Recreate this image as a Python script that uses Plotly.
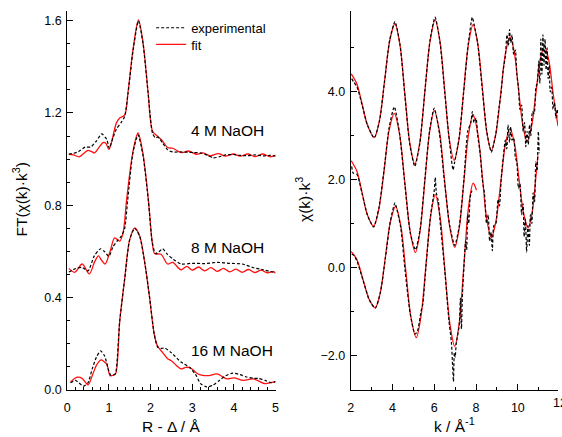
import plotly.graph_objects as go

# ---------------- Fourier transforms, |FT(chi(k) k^3)| vs R - Delta ----------------
r_4m_fit = [0.04, 0.15, 0.29, 0.40, 0.50, 0.58, 0.66, 0.76, 0.87, 0.93, 1.00, 1.07, 1.18, 1.26, 1.38, 1.46,
            1.58, 1.71, 1.82, 1.94, 2.05, 2.17, 2.29, 2.41, 2.53, 2.65, 2.76, 2.91, 3.10, 3.26, 3.43, 3.63,
            3.79, 3.99, 4.15, 4.34, 4.50, 4.70, 4.87, 5.00]
ft_4m_fit = [1.021, 1.018, 1.010, 1.025, 1.038, 1.033, 1.027, 1.050, 1.072, 1.068, 1.042, 1.078, 1.156, 1.178,
             1.192, 1.291, 1.476, 1.604, 1.505, 1.291, 1.121, 1.099, 1.078, 1.050, 1.047, 1.035, 1.028, 1.035,
             1.021, 1.027, 1.014, 1.024, 1.013, 1.022, 1.013, 1.022, 1.011, 1.022, 1.010, 1.017]
r_4m_exp = [0.04, 0.15, 0.27, 0.43, 0.56, 0.70, 0.83, 0.95, 1.01, 1.10, 1.18, 1.30, 1.38, 1.46, 1.58, 1.71,
            1.82, 1.94, 2.05, 2.12, 2.18, 2.29, 2.41, 2.53, 2.70, 2.90, 3.05, 3.19, 3.35, 3.51, 3.65, 3.80,
            3.99, 4.15, 4.34, 4.50, 4.70, 4.87, 5.00]
ft_4m_exp = [1.021, 1.025, 1.032, 1.052, 1.052, 1.078, 1.109, 1.085, 1.047, 1.093, 1.130, 1.160, 1.185, 1.285,
             1.470, 1.600, 1.500, 1.290, 1.110, 1.092, 1.095, 1.070, 1.040, 1.031, 1.031, 1.030, 1.028, 1.027,
             1.018, 1.005, 1.010, 1.018, 1.020, 1.016, 1.015, 1.018, 1.014, 1.016, 1.013]

r_8m_fit = [0.04, 0.18, 0.36, 0.53, 0.66, 0.75, 0.83, 0.91, 1.03, 1.14, 1.26, 1.34, 1.43, 1.58, 1.70, 1.82,
            1.95, 2.04, 2.10, 2.25, 2.41, 2.53, 2.73, 2.87, 3.00, 3.15, 3.30, 3.45, 3.60, 3.75, 3.90, 4.05,
            4.20, 4.35, 4.50, 4.65, 4.80, 4.95, 5.00]
ft_8m_fit = [0.526, 0.509, 0.545, 0.502, 0.555, 0.580, 0.560, 0.545, 0.600, 0.658, 0.644, 0.680, 0.830, 1.035,
             1.113, 1.021, 0.820, 0.640, 0.590, 0.587, 0.545, 0.552, 0.520, 0.535, 0.518, 0.532, 0.515, 0.529,
             0.513, 0.526, 0.511, 0.523, 0.509, 0.521, 0.508, 0.518, 0.507, 0.512, 0.505]
r_8m_exp = [0.04, 0.20, 0.36, 0.50, 0.65, 0.80, 0.90, 1.00, 1.10, 1.20, 1.30, 1.38, 1.45, 1.58, 1.70, 1.82,
            1.95, 2.04, 2.12, 2.20, 2.29, 2.40, 2.55, 2.73, 3.00, 3.30, 3.60, 3.90, 4.20, 4.45, 4.70, 5.00]
ft_8m_exp = [0.510, 0.525, 0.530, 0.515, 0.580, 0.611, 0.598, 0.578, 0.620, 0.645, 0.666, 0.700, 0.820, 1.030,
             1.105, 1.015, 0.815, 0.640, 0.590, 0.598, 0.611, 0.588, 0.565, 0.545, 0.548, 0.547, 0.552, 0.548,
             0.545, 0.530, 0.520, 0.507]

r_16m_fit = [0.08, 0.24, 0.35, 0.50, 0.60, 0.70, 0.81, 0.88, 0.95, 1.03, 1.10, 1.16, 1.26, 1.38, 1.50, 1.62,
             1.74, 1.86, 1.97, 2.09, 2.17, 2.29, 2.41, 2.50, 2.62, 2.73, 2.85, 2.96, 3.12, 3.25, 3.40, 3.60,
             3.83, 4.00, 4.23, 4.46, 4.74, 4.86, 5.00]
ft_16m_fit = [0.033, 0.054, 0.050, 0.021, 0.060, 0.105, 0.129, 0.122, 0.111, 0.061, 0.062, 0.068, 0.296, 0.481,
              0.651, 0.701, 0.666, 0.552, 0.410, 0.239, 0.189, 0.161, 0.134, 0.125, 0.105, 0.090, 0.097, 0.094,
              0.070, 0.062, 0.061, 0.068, 0.047, 0.051, 0.040, 0.047, 0.026, 0.030, 0.035]
r_16m_exp = [0.08, 0.20, 0.39, 0.50, 0.60, 0.70, 0.80, 0.90, 1.00, 1.05, 1.12, 1.16, 1.26, 1.38, 1.50, 1.62,
             1.74, 1.86, 1.97, 2.09, 2.17, 2.25, 2.35, 2.50, 2.73, 2.95, 3.10, 3.20, 3.35, 3.50, 3.65, 3.80,
             3.97, 4.15, 4.30, 4.46, 4.60, 4.75, 4.90, 5.00]
ft_16m_exp = [0.030, 0.040, 0.015, 0.030, 0.090, 0.140, 0.168, 0.145, 0.080, 0.062, 0.065, 0.070, 0.296, 0.481,
              0.651, 0.700, 0.665, 0.552, 0.410, 0.240, 0.185, 0.179, 0.180, 0.160, 0.120, 0.095, 0.060, 0.026,
              0.012, 0.020, 0.040, 0.060, 0.072, 0.065, 0.055, 0.050, 0.048, 0.040, 0.030, 0.035]

# ---------------- EXAFS chi(k) k^3, stacked (offsets included) ----------------
k_top_fit = [2.03, 2.30, 2.55, 2.80, 3.13, 3.38, 3.62, 3.87, 4.12, 4.36, 4.60, 4.83, 5.07, 5.31, 5.55, 5.80,
             6.04, 6.27, 6.50, 6.72, 6.95, 7.18, 7.40, 7.63, 7.86, 8.08, 8.30, 8.51, 8.73, 8.95, 9.18, 9.40,
             9.62, 9.83, 10.03, 10.24, 10.44, 10.65, 10.86, 11.06, 11.27, 11.48, 11.69, 11.92]
chi_top_fit = [4.41, 4.18, 3.72, 3.25, 2.96, 3.35, 4.23, 5.16, 5.55, 5.07, 3.92, 2.84, 2.36, 2.85, 4.00, 5.15,
               5.64, 5.16, 4.04, 2.92, 2.44, 2.90, 3.98, 5.07, 5.53, 5.10, 4.10, 3.09, 2.66, 3.05, 3.95, 4.86,
               5.25, 4.90, 4.06, 3.23, 2.87, 3.20, 3.95, 4.71, 5.04, 4.72, 3.95, 3.22]
k_top_exp = [2.05, 2.15, 2.30, 2.55, 2.80, 3.13, 3.38, 3.62, 3.87, 4.12, 4.36, 4.60, 4.83, 5.07, 5.31, 5.55,
             5.80, 6.04, 6.27, 6.50, 6.72, 6.90, 6.97, 7.18, 7.40, 7.63, 7.82, 7.90, 8.08, 8.30, 8.51, 8.65,
             8.73, 8.80, 8.95, 9.10, 9.18, 9.30, 9.40, 9.48, 9.55, 9.60, 9.66, 9.72, 9.80, 9.88, 9.95, 10.03,
             10.10, 10.18, 10.25, 10.32, 10.38, 10.44, 10.50, 10.56, 10.62, 10.70, 10.78, 10.86, 10.93, 11.00,
             11.05, 11.10, 11.15, 11.20, 11.25, 11.30, 11.35, 11.40, 11.45, 11.50, 11.55, 11.62, 11.68, 11.75,
             11.82, 11.88, 11.95]
chi_top_exp = [4.30, 4.22, 4.12, 3.70, 3.25, 2.95, 3.33, 4.22, 5.18, 5.60, 5.08, 3.90, 2.80, 2.30, 2.82, 4.00,
               5.18, 5.70, 5.15, 4.00, 2.90, 2.22, 2.38, 2.92, 3.95, 5.10, 5.70, 5.55, 5.10, 4.05, 3.10, 2.75,
               2.62, 2.72, 3.05, 3.65, 3.90, 4.50, 4.80, 5.30, 5.05, 5.42, 5.12, 5.30, 4.85, 4.95, 4.40, 4.10,
               3.60, 3.70, 3.10, 3.30, 2.75, 3.10, 2.80, 3.25, 3.00, 3.55, 3.50, 4.10, 4.20, 4.70,
               4.20, 5.20, 4.40, 5.30, 4.60, 5.20, 4.50, 5.00, 4.30, 4.60, 4.00, 4.10, 3.60, 3.75,
               3.40, 3.60, 3.35]

k_mid_fit = [2.03, 2.30, 2.55, 2.80, 3.10, 3.35, 3.60, 3.84, 4.09, 4.34, 4.60, 4.85, 5.10, 5.32, 5.55, 5.78,
             6.00, 6.25, 6.49, 6.74, 6.98, 7.20, 7.42, 7.64, 7.86, 8.08, 8.30, 8.51, 8.73, 8.95, 9.18, 9.40,
             9.62, 9.84, 10.05, 10.27, 10.49, 10.70, 10.85, 10.96]
chi_mid_fit = [2.43, 2.19, 1.70, 1.20, 0.94, 1.33, 2.20, 3.12, 3.51, 3.04, 1.90, 0.81, 0.34, 0.82, 1.96, 3.09,
               3.57, 3.10, 2.00, 0.93, 0.46, 0.91, 1.97, 3.03, 3.48, 3.06, 2.08, 1.10, 0.68, 1.05, 1.92, 2.79,
               3.16, 2.82, 2.03, 1.24, 0.90, 1.30, 2.00, 2.55]
k_mid_exp = [2.05, 2.12, 2.30, 2.55, 2.80, 3.10, 3.35, 3.60, 3.84, 4.09, 4.34, 4.60, 4.85, 5.10, 5.32, 5.55,
             5.78, 6.00, 6.25, 6.49, 6.74, 6.98, 7.20, 7.42, 7.60, 7.75, 7.82, 7.90, 8.00, 8.08, 8.20, 8.30,
             8.40, 8.50, 8.58, 8.65, 8.72, 8.78, 8.85, 8.95, 9.05, 9.12, 9.20, 9.30, 9.40, 9.47, 9.53, 9.60,
             9.66, 9.72, 9.80, 9.88, 9.95, 10.03, 10.10, 10.18, 10.25, 10.30, 10.36, 10.42, 10.48, 10.55,
             10.60, 10.67, 10.73, 10.80, 10.86, 10.92, 10.98, 11.02]
chi_mid_exp = [2.30, 2.15, 2.12, 1.68, 1.20, 0.92, 1.35, 2.22, 3.18, 3.66, 3.05, 1.88, 0.80, 0.40, 0.85, 2.00,
               3.12, 3.63, 3.05, 1.95, 0.95, 0.50, 0.95, 2.00, 3.10, 3.30, 3.55, 3.30, 3.40, 3.00, 2.60, 2.00,
               1.70, 1.00, 1.20, 0.60, 0.80, 0.38, 0.95, 1.00, 1.55, 1.40, 2.00, 2.50, 2.90, 2.70, 3.25, 2.85,
               3.20, 2.90, 2.95, 2.50, 2.40, 1.80, 1.90, 1.20, 1.45, 0.70, 1.10, 0.35, 0.95, 0.50,
               1.20, 1.00, 1.70, 1.50, 2.40, 2.20, 3.10, 2.60]

k_bot_fit = [2.03, 2.30, 2.60, 2.90, 3.18, 3.42, 3.66, 3.90, 4.15, 4.40, 4.64, 4.89, 5.14, 5.37, 5.60, 5.83,
             6.05, 6.28, 6.51, 6.75, 6.98, 7.20, 7.42, 7.64, 7.86, 8.02]
chi_bot_fit = [0.36, 0.18, -0.29, -0.74, -0.92, -0.57, 0.22, 1.03, 1.39, 0.95, -0.08, -1.15, -1.60, -1.10, 0.03,
               1.18, 1.66, 1.15, -0.07, -1.29, -1.80, -1.25, 0.06, 1.37, 1.92, 1.76]
k_bot_exp = [2.05, 2.15, 2.30, 2.60, 2.90, 3.18, 3.42, 3.66, 3.90, 4.12, 4.20, 4.40, 4.60, 4.85, 5.08, 5.20,
             5.37, 5.45, 5.60, 5.83, 6.00, 6.05, 6.10, 6.20, 6.28, 6.51, 6.70, 6.82, 6.88, 6.92, 6.96, 7.00,
             7.05, 7.12, 7.20, 7.25, 7.30, 7.35, 7.42, 7.50, 7.55, 7.60, 7.65, 7.72, 7.80]
chi_bot_exp = [0.30, 0.28, 0.15, -0.30, -0.75, -0.93, -0.58, 0.20, 1.05, 1.47, 1.35, 0.90, -0.05, -1.05, -1.52,
               -1.45, -1.00, -0.85, 0.00, 1.20, 1.75, 2.05, 1.70, 1.50, 1.05, -0.10, -1.20, -1.70, -2.25, -2.60,
               -1.95, -2.05, -1.75, -1.55, -1.30, -0.70, -1.40, -0.60, 0.00, 0.60, 0.40, 1.20, 1.00, 1.60, 1.75]

sample_labels = ["4 M NaOH", "8 M NaOH", "16 M NaOH"]
sample_label_pos = [(2.92, 1.126), (2.92, 0.616), (2.92, 0.168)]

FONT = "Liberation Sans, Arial, Helvetica, sans-serif"
EXP_LINE = dict(color="black", width=1.2, dash="3px,2px", shape="spline", smoothing=0.6)
FIT_LINE = dict(color="#ff1010", width=1.3, shape="spline", smoothing=0.9)

fig = go.Figure()

ft_sets = [(r_4m_fit, ft_4m_fit, r_4m_exp, ft_4m_exp),
           (r_8m_fit, ft_8m_fit, r_8m_exp, ft_8m_exp),
           (r_16m_fit, ft_16m_fit, r_16m_exp, ft_16m_exp)]
chi_sets = [(k_top_fit, chi_top_fit, k_top_exp, chi_top_exp),
            (k_mid_fit, chi_mid_fit, k_mid_exp, chi_mid_exp),
            (k_bot_fit, chi_bot_fit, k_bot_exp, chi_bot_exp)]

for i, (rf, yf, re_, ye) in enumerate(ft_sets):
    fig.add_trace(go.Scatter(x=rf, y=yf, mode="lines", line=FIT_LINE, name="fit",
                             legend="legend2", showlegend=(i == 0), xaxis="x", yaxis="y"))
    fig.add_trace(go.Scatter(x=re_, y=ye, mode="lines", line=EXP_LINE, name="experimental",
                             legend="legend", showlegend=(i == 0), xaxis="x", yaxis="y"))

for kf, cf, ke, ce in chi_sets:
    fig.add_trace(go.Scatter(x=kf, y=cf, mode="lines", line=FIT_LINE, showlegend=False,
                             xaxis="x2", yaxis="y2"))
    fig.add_trace(go.Scatter(x=ke, y=ce, mode="lines", line=EXP_LINE, showlegend=False,
                             xaxis="x2", yaxis="y2"))

W, H = 562, 437
ydom = [1 - 396 / H, 1 - 11 / H]
tick_font = dict(family=FONT, size=12.5, color="black")
common = dict(showline=True, linecolor="black", linewidth=1, ticks="inside", tickcolor="black",
              tickwidth=1, ticklen=6, showgrid=False, zeroline=False, tickfont=tick_font)

legend_style = dict(xanchor="left", yanchor="top", bgcolor="rgba(0,0,0,0)", borderwidth=0,
                    font=dict(family=FONT, size=13, color="black"))

fig.update_layout(
    width=W, height=H,
    margin=dict(l=0, r=0, t=0, b=0),
    paper_bgcolor="white", plot_bgcolor="white",
    font=dict(family=FONT, color="black"),
    xaxis=dict(domain=[65 / W, 276 / W], range=[0, 5], dtick=1, tick0=0, anchor="y", ticklabelstandoff=6,
               minor=dict(dtick=0.2, ticks="inside", ticklen=3, tickcolor="black"), **common),
    yaxis=dict(domain=ydom, range=[0, 1.643], dtick=0.4, tick0=0, tickformat=".1f", anchor="x",
               ticklabelstandoff=2,
               minor=dict(dtick=0.1, ticks="inside", ticklen=3, tickcolor="black"), **common),
    xaxis2=dict(domain=[352 / W, 1.0], range=[2, 11.92], dtick=2, tick0=0, anchor="y2", ticklabelstandoff=6,
                minor=dict(dtick=1, ticks="inside", ticklen=3, tickcolor="black"), **common),
    yaxis2=dict(domain=ydom, range=[-2.785, 5.845], dtick=2, tick0=0, tickformat=".1f", anchor="x2",
                ticklabelstandoff=2,
                minor=dict(dtick=1, ticks="inside", ticklen=3, tickcolor="black"), **common),
    legend=dict(x=150 / W, y=1 - 13 / H, **legend_style),
    legend2=dict(x=150 / W, y=1 - 30 / H, **legend_style),
    showlegend=True,
)

title_font = dict(family=FONT, size=15.5, color="black")
annotations = [
    dict(text="FT(χ(k)·k<sup>3</sup>)", x=17 / W, y=1 - 203 / H, textangle=-90),
    dict(text="R - Δ / Å", x=170.5 / W, y=1 - 433 / H),
    dict(text="χ(k)·k<sup>3</sup>", x=304 / W, y=1 - 203 / H, textangle=-90),
    dict(text="k / Å<sup>-1</sup>", x=457 / W, y=1 - 432 / H),
]
for a in annotations:
    fig.add_annotation(xref="paper", yref="paper", showarrow=False, font=title_font,
                       xanchor="center", yanchor="middle", **a)

# tick label of k = 12 sits right at the page edge
fig.add_annotation(xref="paper", yref="paper", x=(352 + 10 * 21.2) / W, y=1 - 410 / H,
                   text="12", showarrow=False, font=tick_font, xanchor="center", yanchor="middle")

for label, (lx, ly) in zip(sample_labels, sample_label_pos):
    fig.add_annotation(xref="x", yref="y", x=lx, y=ly, text=label, showarrow=False,
                       xanchor="left", yanchor="middle", font=title_font)

fig.write_html("out.html")
